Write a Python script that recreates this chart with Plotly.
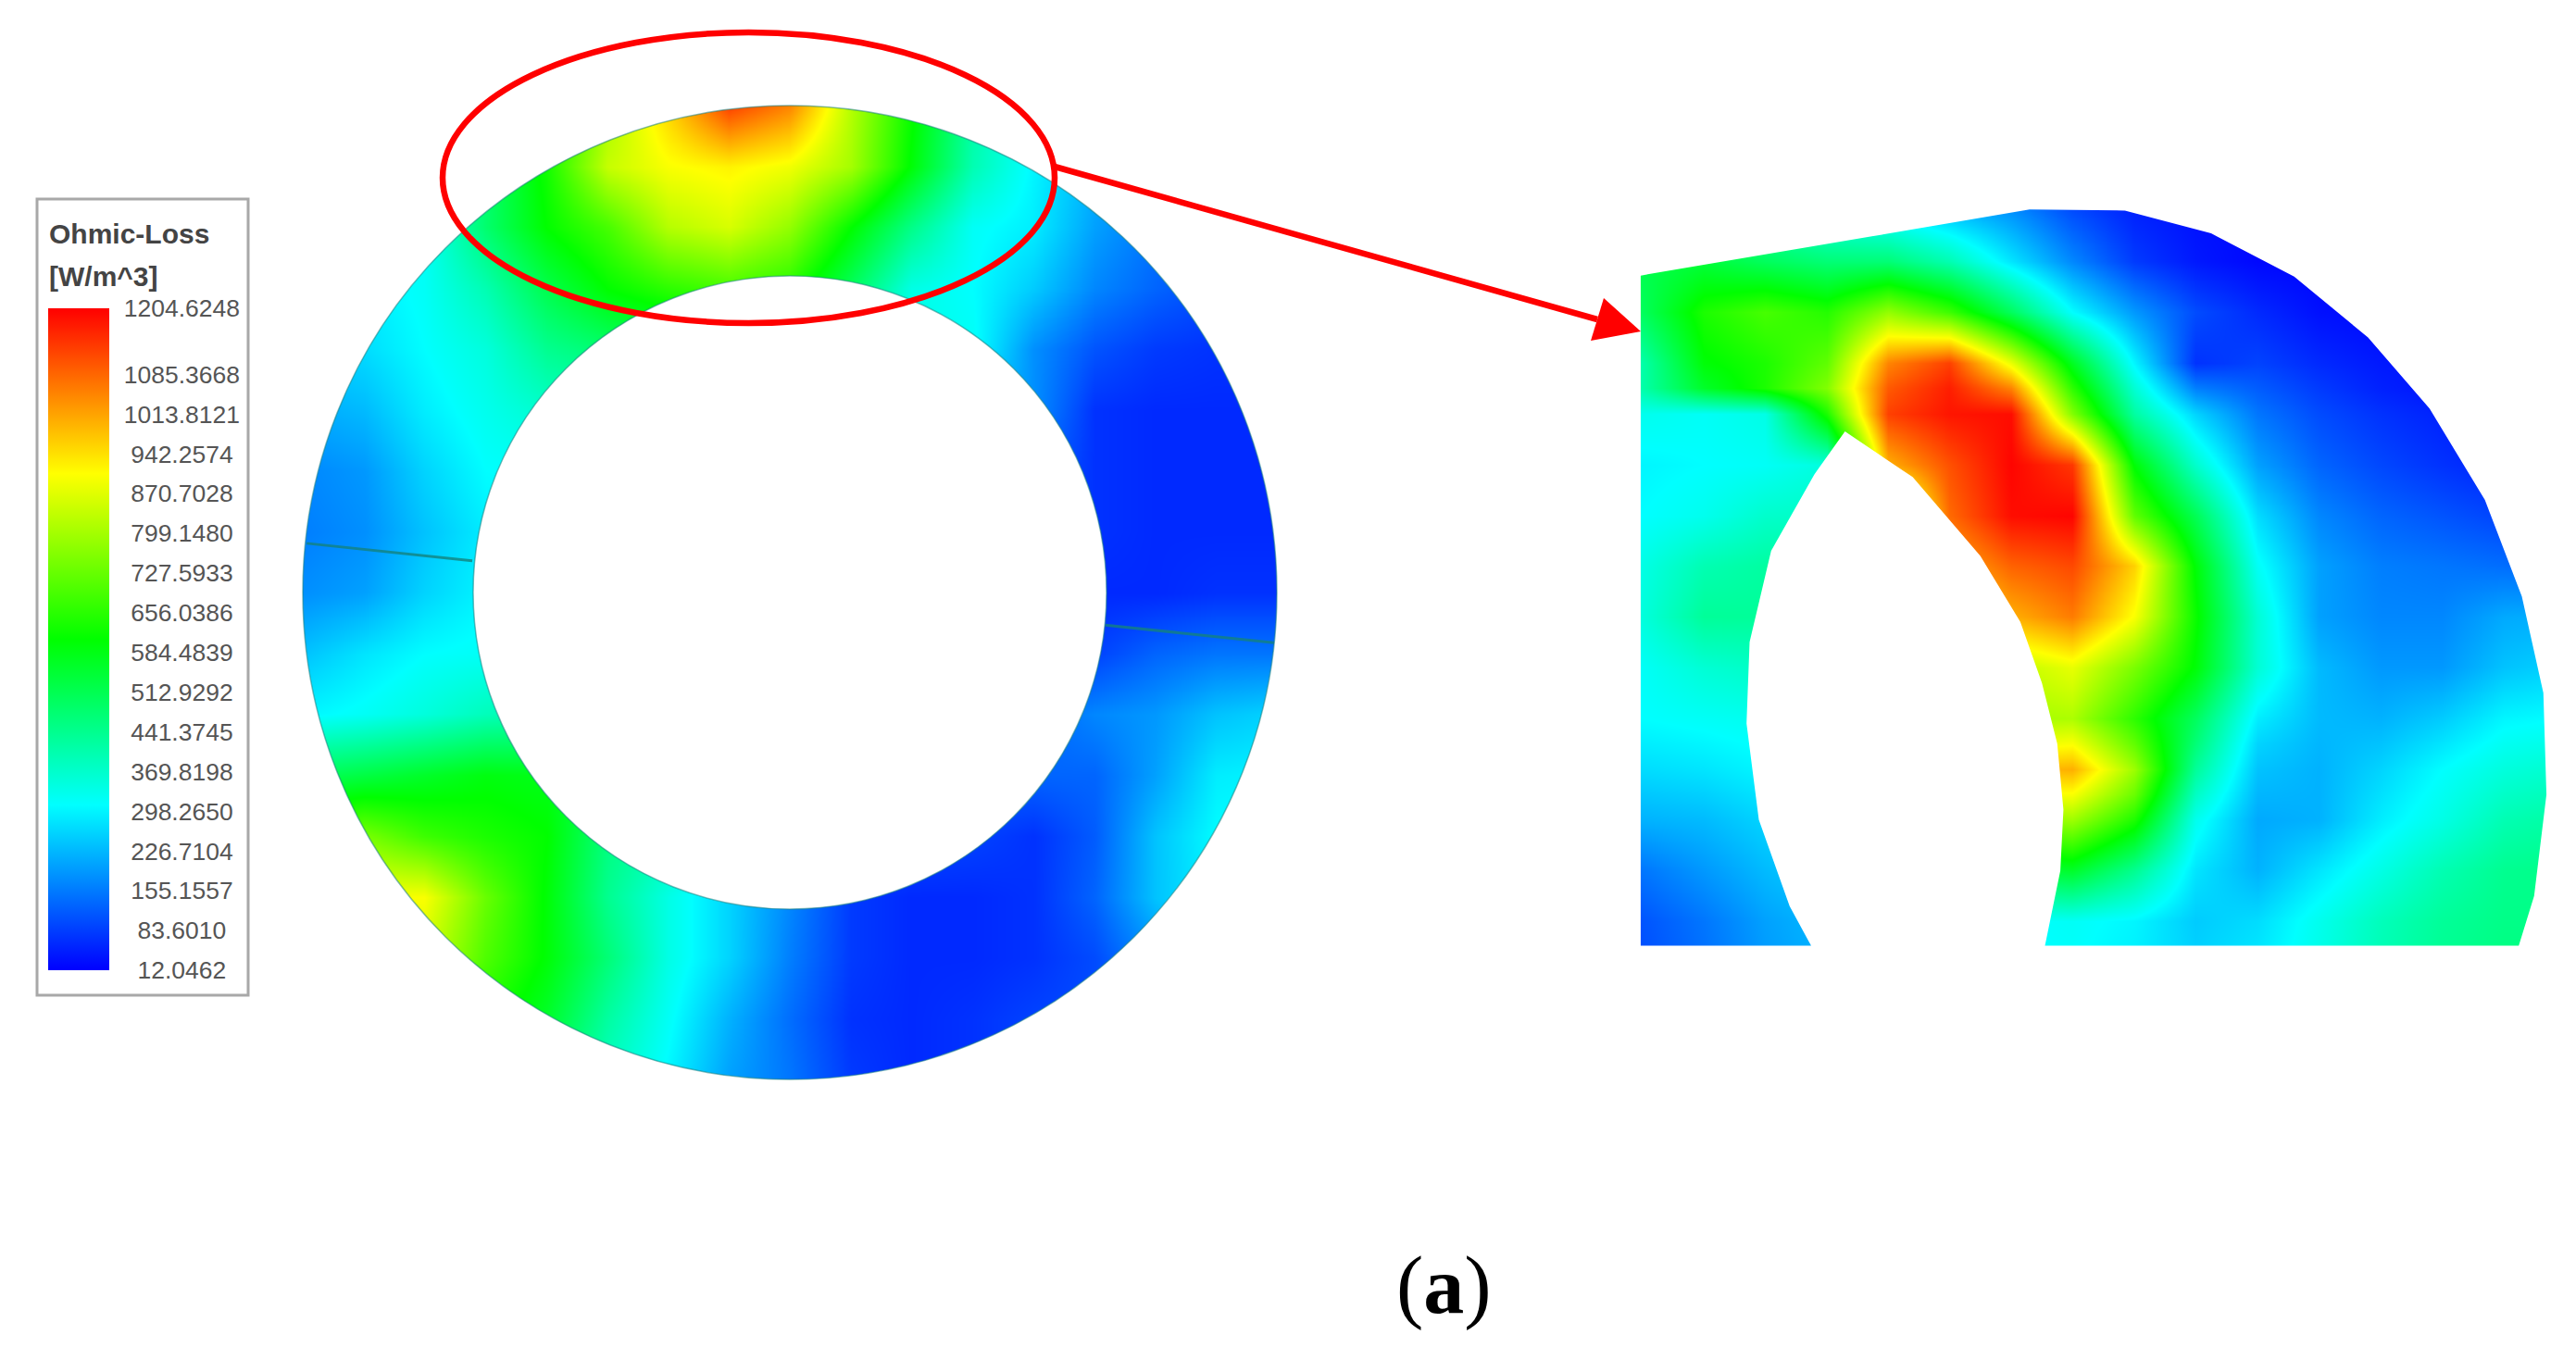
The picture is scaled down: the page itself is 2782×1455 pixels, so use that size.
"""
Ohmic-Loss distribution on the ring, with the enlarged hot-spot view on the right
"""
import numpy as np
import plotly.graph_objects as go

W, H = 2782, 1455
PAGE_MARGIN = 8  # the browser keeps this much white round the figure

legend_ticks = [1204.6248, 1085.3668, 1013.8121, 942.2574, 870.7028, 799.1480, 727.5933,
                656.0386, 584.4839, 512.9292, 441.3745, 369.8198, 298.2650, 226.7104,
                155.1557, 83.6010, 12.0462]
legend_labels = ["1204.6248", "1085.3668", "1013.8121", "\u00a0942.2574", "\u00a0870.7028",
                 "\u00a0799.1480", "\u00a0727.5933", "\u00a0656.0386", "\u00a0584.4839",
                 "\u00a0512.9292", "\u00a0441.3745", "\u00a0369.8198", "\u00a0298.2650",
                 "\u00a0226.7104", "\u00a0155.1557", "\u00a0\u00a083.6010", "\u00a0\u00a012.0462"]

# ring, in units of the outer radius (top row first)
ring_x = [-1, -0.875, -0.75, -0.625, -0.5, -0.375, -0.25, -0.125, 0,
          0.125, 0.25, 0.375, 0.5, 0.625, 0.75, 0.875, 1]
ring_y = [-1, -0.875, -0.75, -0.625, -0.5, -0.375, -0.25, -0.125, 0,
          0.125, 0.25, 0.375, 0.5, 0.625, 0.75, 0.875, 1]
ring_loss = [
    [300, 300, 350, 450, 600, 800, 960, 1130, 1050, 820, 620, 420, 300, 200, 150, 100, 80],
    [300, 300, 350, 480, 630, 840, 900, 920, 890, 800, 600, 400, 300, 220, 160, 110, 80],
    [280, 290, 320, 480, 610, 690, 820, 860, 780, 610, 450, 320, 290, 200, 150, 110, 80],
    [280, 290, 320, 400, 520, 610, 660, 690, 650, 500, 340, 310, 250, 170, 130, 100, 80],
    [250, 270, 310, 350, 440, 480, 500, 500, 450, 400, 340, 320, 180, 110, 80, 70, 70],
    [210, 230, 290, 330, 370, 380, 380, 380, 350, 320, 280, 250, 180, 70, 60, 60, 60],
    [170, 190, 260, 310, 320, 320, 320, 320, 300, 280, 250, 200, 130, 70, 60, 60, 60],
    [160, 180, 240, 290, 300, 300, 300, 300, 280, 260, 220, 170, 110, 70, 60, 60, 60],
    [180, 200, 260, 300, 310, 310, 300, 290, 270, 240, 200, 150, 100, 60, 60, 70, 70],
    [240, 280, 310, 320, 330, 320, 310, 290, 260, 220, 180, 140, 110, 90, 130, 150, 150],
    [300, 320, 350, 390, 410, 400, 370, 320, 270, 220, 170, 140, 130, 170, 190, 240, 260],
    [500, 530, 560, 590, 580, 530, 450, 340, 270, 200, 150, 120, 130, 130, 200, 290, 300],
    [720, 750, 680, 640, 610, 460, 400, 320, 230, 150, 100, 90, 70, 120, 240, 310, 320],
    [900, 900, 900, 730, 600, 440, 340, 260, 170, 80, 60, 60, 70, 130, 240, 300, 310],
    [850, 850, 850, 700, 600, 470, 340, 260, 160, 80, 60, 60, 70, 100, 180, 250, 280],
    [700, 700, 700, 640, 560, 420, 320, 220, 140, 70, 60, 70, 90, 100, 130, 180, 200],
    [550, 550, 550, 520, 480, 380, 300, 200, 150, 80, 60, 70, 90, 100, 120, 150, 170],
]

# enlarged view, in its own axis units
zoom_x = [50, 150, 250, 350, 450, 550, 650, 750, 850, 950, 1050, 1150, 1250, 1350, 1450, 1550]
zoom_y = [50, 150, 250, 350, 400, 450, 550, 650, 750, 850, 950, 1050, 1100, 1150, 1200, 1250,
          1350, 1450, 1550]
zoom_loss = [
    [500, 450, 380, 320, 280, 230, 180, 100, 50, 30, 20, 15, 15, 15, 15, 15],
    [520, 540, 500, 470, 470, 400, 280, 170, 80, 40, 20, 15, 15, 15, 15, 15],
    [500, 640, 690, 650, 780, 680, 500, 310, 190, 100, 60, 30, 20, 15, 15, 15],
    [410, 600, 640, 720, 1050, 1130, 880, 570, 300, 70, 90, 60, 40, 30, 20, 15],
    [410, 560, 640, 760, 1100, 1170, 1050, 660, 360, 160, 120, 80, 50, 35, 25, 15],
    [330, 320, 340, 640, 1130, 1180, 1190, 760, 420, 260, 150, 100, 70, 50, 30, 20],
    [300, 310, 320, 350, 1000, 1110, 1200, 1140, 600, 370, 200, 130, 95, 70, 50, 40],
    [310, 330, 370, 380, 700, 1080, 1190, 1200, 720, 510, 270, 170, 130, 110, 90, 80],
    [340, 400, 420, 430, 800, 1000, 1090, 1120, 960, 600, 320, 200, 160, 150, 140, 130],
    [350, 430, 430, 430, 700, 900, 1000, 1060, 900, 620, 360, 200, 170, 170, 210, 220],
    [320, 360, 380, 400, 600, 800, 830, 880, 750, 600, 360, 230, 190, 190, 240, 260],
    [310, 320, 330, 350, 500, 700, 800, 810, 660, 500, 290, 230, 220, 250, 300, 310],
    [290, 300, 315, 340, 500, 820, 880, 900, 720, 470, 260, 225, 240, 280, 325, 340],
    [270, 280, 300, 330, 500, 950, 980, 1000, 790, 430, 240, 220, 260, 310, 350, 370],
    [245, 255, 280, 315, 475, 880, 900, 900, 730, 380, 225, 220, 275, 325, 375, 395],
    [220, 230, 260, 300, 450, 650, 760, 790, 640, 330, 210, 220, 290, 340, 400, 420],
    [150, 190, 230, 260, 350, 450, 520, 560, 440, 280, 220, 280, 340, 400, 440, 450],
    [110, 150, 200, 230, 260, 290, 310, 320, 300, 250, 270, 330, 390, 430, 450, 450],
    [100, 140, 190, 220, 250, 280, 300, 310, 290, 260, 290, 340, 400, 440, 460, 460],
]

# outline of the enlarged part, the hole is part of the same outline
zoom_outline = [(48, 178), (680, 48), (835, 50), (975, 95), (1110, 180), (1230, 300), (1330, 440),
                (1420, 620), (1480, 810), (1515, 1000), (1520, 1200), (1500, 1400), (1475, 1498),
                (705, 1498), (730, 1350), (735, 1230), (725, 1100), (700, 980), (665, 860),
                (600, 730), (490, 575), (380, 485), (330, 570), (260, 720), (225, 900),
                (220, 1060), (240, 1250), (290, 1420), (325, 1498), (48, 1498)]

CX, CY, R = 853, 640, 526  # ring centre and outer radius on the page
INNER = 342 / 526
RING_SPAN = 1.1
FIG_W = W - 2 * PAGE_MARGIN
FIG_H = H - 2 * PAGE_MARGIN


def px(x):
    return (x - PAGE_MARGIN) / FIG_W


def py(y):
    return 1 - (y - PAGE_MARGIN) / FIG_H


colorscale = [[0, "#0000ff"], [0.25, "#00ffff"], [0.5, "#00ff00"], [0.75, "#ffff00"], [1, "#ff0000"]]

fig = go.Figure()
fig.add_trace(go.Heatmap(x=ring_x, y=ring_y, z=ring_loss, zsmooth="best",
                         coloraxis="coloraxis", hoverinfo="skip"))
fig.add_trace(go.Heatmap(x=zoom_x, y=zoom_y, z=zoom_loss, zsmooth="best",
                         coloraxis="coloraxis", hoverinfo="skip", xaxis="x2", yaxis="y2"))

# white masks that cut the two maps to shape
t = np.linspace(0, 2 * np.pi, 361)[:-1]
circle = "M" + "L".join(f"{np.cos(a):.4f},{np.sin(a):.4f}" for a in t) + "Z"
s = RING_SPAN
ring_mask = f"M{-s},{-s}L{s},{-s}L{s},{s}L{-s},{s}Z" + circle
zoom_mask = ("M0,0L1568,0L1568,1568L0,1568Z"
             + "M" + "L".join(f"{a},{b}" for a, b in zoom_outline) + "Z")

edge = "rgba(30,130,130,0.55)"
seam = "rgba(20,130,125,0.8)"
shapes = [
    dict(type="path", path=ring_mask, xref="x", yref="y", fillcolor="white",
         fillrule="evenodd", line_width=0, layer="above"),
    dict(type="circle", xref="x", yref="y", x0=-INNER, x1=INNER, y0=-INNER, y1=INNER,
         fillcolor="white", line=dict(color=edge, width=1.5), layer="above"),
    dict(type="circle", xref="x", yref="y", x0=-1, x1=1, y0=-1, y1=1,
         line=dict(color=edge, width=1.5), layer="above"),
    dict(type="line", xref="x", yref="y", x0=-0.992, y0=-0.101, x1=-0.652, y1=-0.065,
         line=dict(color=seam, width=3), layer="above"),
    dict(type="line", xref="x", yref="y", x0=0.648, y0=0.067, x1=0.994, y1=0.103,
         line=dict(color=seam, width=3), layer="above"),
    dict(type="path", path=zoom_mask, xref="x2", yref="y2", fillcolor="white",
         fillrule="evenodd", line_width=0, layer="above"),
    # legend frame
    dict(type="rect", xref="paper", yref="paper", x0=px(40), x1=px(268), y0=py(1075), y1=py(215),
         fillcolor="white", line=dict(color="#a8a8a8", width=3), layer="above"),
    # red ellipse and arrow
    dict(type="circle", xref="paper", yref="paper", x0=px(478), x1=px(1139), y0=py(349), y1=py(35),
         line=dict(color="#ff0000", width=6.5), layer="above"),
    dict(type="line", xref="paper", yref="paper", x0=px(1139), y0=py(180), x1=px(1725), y1=py(345),
         line=dict(color="#ff0000", width=6.5), layer="above"),
    dict(type="path", xref="paper", yref="paper", fillcolor="#ff0000", line_width=0, layer="above",
         path=f"M{px(1772)},{py(358)}L{px(1732)},{py(322)}L{px(1718)},{py(368)}Z"),
]

annotations = [
    dict(text="<b>Ohmic-Loss</b>", x=px(51), y=py(252), xref="paper", yref="paper", xanchor="left",
         yanchor="middle", showarrow=False, font=dict(family="Liberation Sans", size=30, color="#444444")),
    dict(text="<b>[W/m^3]</b>", x=px(51), y=py(298), xref="paper", yref="paper", xanchor="left",
         yanchor="middle", showarrow=False, font=dict(family="Liberation Sans", size=30, color="#444444")),
    dict(text="(<b>a</b>)", x=px(1559), y=py(1388), xref="paper", yref="paper", xanchor="center",
         yanchor="middle", showarrow=False, font=dict(family="Liberation Serif", size=88, color="#000000")),
]

fig.update_layout(
    width=FIG_W, height=FIG_H,
    margin=dict(l=0, r=0, t=0, b=0),
    paper_bgcolor="white",
    plot_bgcolor="white",
    showlegend=False,
    shapes=shapes,
    annotations=annotations,
    xaxis=dict(domain=[px(CX - s * R), px(CX + s * R)], range=[-s, s], visible=False),
    yaxis=dict(domain=[py(CY + s * R), py(CY - s * R)], range=[s, -s], visible=False),
    xaxis2=dict(domain=[px(1740), 1], range=[0, 1556], visible=False, anchor="y2"),
    yaxis2=dict(domain=[py(1060), py(200)], range=[1568, 0], visible=False, anchor="x2"),
    coloraxis=dict(
        cmin=12.0462, cmax=1204.6248, colorscale=colorscale,
        colorbar=dict(
            thicknessmode="pixels", thickness=66, lenmode="pixels", len=715,
            x=px(52), xanchor="left", y=py(333), yanchor="top", xpad=0, ypad=0,
            outlinewidth=0, borderwidth=0,
            tickmode="array", tickvals=legend_ticks, ticktext=legend_labels,
            ticks="outside", ticklen=11, tickcolor="rgba(0,0,0,0)",
            tickfont=dict(family="Liberation Sans", size=26.5, color="#555555"),
        ),
    ),
)

fig.write_html("out.html")
